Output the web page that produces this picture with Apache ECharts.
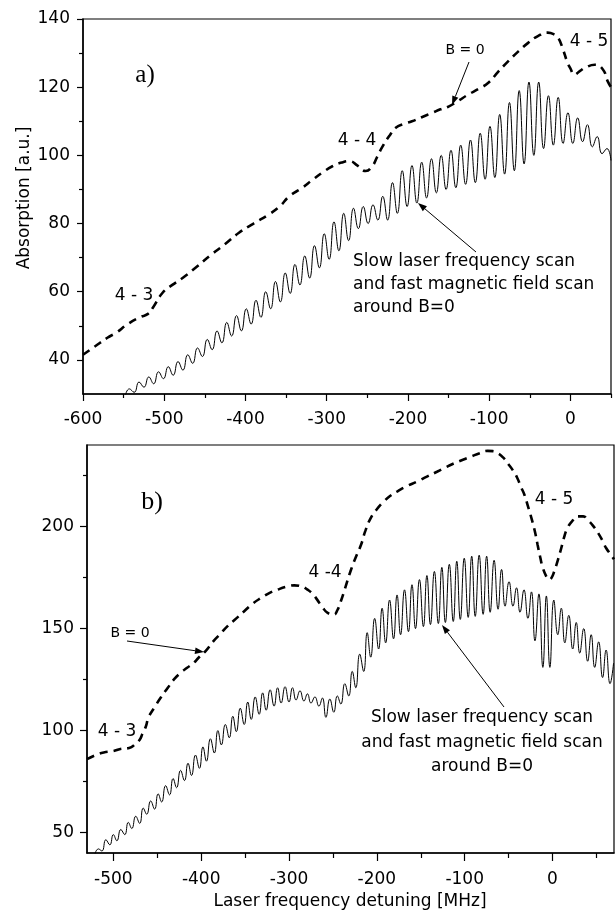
<!DOCTYPE html>
<html>
<head>
<meta charset="utf-8">
<script src="https://cdn.jsdelivr.net/npm/echarts@6/dist/echarts.min.js"></script>
<style>
  html, body { margin: 0; padding: 0; background: #fff; }
  #chart { width: 616px; height: 913px; }
</style>
</head>
<body>
<div id="chart"></div>
<script>
// ---- panel a) axes ----
var xTicksA = [-600, -500, -400, -300, -200, -100, 0];
var xMinorA = [-550, -450, -350, -250, -150, -50, 50];
var yTicksA = [40, 60, 80, 100, 120, 140];
var yMinorA = [50, 70, 90, 110, 130];

// ---- panel b) axes ----
var xTicksB = [-500, -400, -300, -200, -100, 0];
var xMinorB = [-450, -350, -250, -150, -50, 50];
var yTicksB = [50, 100, 150, 200];
var yMinorB = [75, 125, 175, 225];

// a) B=0 curve (dashed)
var dashA = [[-600,41.5],[-585,44],[-570,46.5],[-559,48],[-545,50.5],[-530,52.5],[-520,53.5],[-514,55.3],
  [-502,59.7],[-490,62],[-477,64.1],[-460,67.3],[-444,70.5],[-425,74],[-408,77.3],[-390,80],[-371,82.7],
  [-358,85],[-346,88],[-330,90.5],[-317,92.9],[-305,95],[-293,96.8],[-280,98],[-272,98.3],[-262,97],
  [-252,95.4],[-244,96.8],[-238,99.5],[-231,102.7],[-222,106],[-215,108.1],[-205,109.2],[-195,110],
  [-183,111.2],[-170,112.5],[-160,113.5],[-150,114.3],[-138,116],[-126,117.8],[-113,119.5],[-101,121.3],
  [-89,124.5],[-77,127.5],[-64,130.5],[-52,133],[-40,135],[-28,136],[-20,135.5],[-15,134.5],[-9,131],
  [-4,127.5],[0,125.5],[5,123.7],[12,124.8],[18,125.7],[30,126.6],[40,125.2],[46,121.7],[50,120]];

// a) scanned curve: maxima and minima of the oscillation
var peaksA = [[-543,31.5],[-531,33.5],[-519,35],[-507,36.5],[-495,38],[-483,39.5],[-471,41.5],[-459,43.5],
  [-447,46],[-435,48.5],[-423,51],[-411,53],[-399,55],[-387,57.5],[-375,60],[-363,63],[-351,65.5],[-339,68],
  [-327,70.5],[-315,73.5],[-303,77],[-291,80.5],[-279,83],[-267,84.5],[-255,85],[-243,85.5],[-231,88],
  [-219,92],[-207,95.5],[-195,97],[-183,98],[-171,99],[-159,100],[-147,101.5],[-135,103],[-123,104.5],
  [-111,106.5],[-99,108.5],[-87,112],[-75,115.5],[-63,119],[-51,121.5],[-39,121.5],[-27,117.5],[-15,117],
  [-3,112.5],[9,111],[21,109],[33,105.5],[45,102]];
var troughsA = [[-548,29.5],[-537,30.5],[-525,32],[-513,33],[-501,34.5],[-489,35.5],[-477,37],[-465,39],
  [-453,41],[-441,43],[-429,45],[-417,47],[-405,48.5],[-393,50.5],[-381,52.5],[-369,55],[-357,57],[-345,59.5],
  [-333,62],[-321,64],[-309,67],[-297,69.5],[-285,72],[-273,75],[-261,78.5],[-249,80],[-237,81],[-225,81],
  [-213,83],[-201,85],[-189,86],[-177,87.5],[-165,89],[-153,90],[-141,90.5],[-129,91.5],[-117,92],[-105,93],
  [-93,93.5],[-81,94.5],[-69,95.5],[-57,97.5],[-45,100],[-33,102],[-21,103],[-9,103.5],[3,103.5],[15,104],
  [27,102.5],[39,100.5],[50,98.5]];

// b) B=0 curve (dashed)
var dashB = [[-530,86],[-520,88],[-511,89.3],[-500,90],[-492,91],[-482,91.5],[-475,93.4],[-470,95.5],
  [-467,98.3],[-463,102],[-460,106.4],[-453,111.5],[-446,116.2],[-438,121],[-431,125.1],[-423,128.5],
  [-416,130.8],[-409,133],[-403,135.7],[-395,139],[-386,143.9],[-378,147.5],[-370,151.2],[-360,155],
  [-351,158.5],[-342,162],[-332,165],[-322,167.5],[-313,169.1],[-303,170.5],[-294,171.2],[-286,170.8],
  [-279,169.1],[-273,167],[-268,164.2],[-262,160.5],[-256,157.7],[-249,156.9],[-245,159],[-241,163.4],
  [-236,170],[-230,178.1],[-224,185],[-218,191.1],[-213,198],[-207,204.2],[-200,208.5],[-192,212.3],
  [-185,215],[-177,217.2],[-166,219.8],[-154,222.1],[-143,224.5],[-131,227],[-122,229],[-112,231],
  [-102,232.8],[-93,234.3],[-83,236],[-74,237.1],[-68,237],[-62,235.9],[-56,233.8],[-51,231],[-45,227.5],
  [-40,223.7],[-36,219.5],[-32,215.6],[-28,210],[-24,204.2],[-20,197.5],[-17,191.1],[-14,185],[-11,179.7],
  [-7,175.5],[-4,174],[-1,175],[2,178.1],[6,183.5],[10,189.5],[13,194.5],[17,199.3],[23,203],[29,205],
  [35,205],[40,203.3],[46,200.5],[52,196.8],[57,193],[61,189.5],[66,186.5],[70,184]];

// b) scanned curve: maxima and minima
var peaksB = [[-517,42],[-508.5,46.5],[-500,49],[-491.5,51.5],[-483,55],[-474.5,58],[-466,62],[-457.5,65.5],
  [-449,69],[-440.5,73],[-432,76.5],[-423.5,80.5],[-415,84],[-406.5,88],[-398,92],[-389.5,96],[-381,100],
  [-372.5,103],[-364,107],[-355.5,111],[-347,114],[-338.5,116.5],[-330,118.5],[-321.5,120],[-313,121],
  [-304.5,121.5],[-296,121],[-287.5,119.5],[-279,118],[-270.5,116.5],[-262,116],[-253.5,115.5],[-245,117],
  [-236.5,123],[-228,129],[-219.5,137.5],[-211,148],[-202.5,155],[-194,160],[-185.5,164],[-177,166.5],
  [-168.5,169],[-160,171.5],[-151.5,174],[-143,176],[-134.5,178],[-126,180],[-117.5,181.5],[-109,183],
  [-100.5,184.5],[-92,185.5],[-83.5,186],[-75,185.5],[-66.5,183.5],[-58,179],[-49.5,173],[-41,170],
  [-32.5,169],[-24,168],[-15.5,167],[-7,166],[1.5,164],[10,160],[18.5,156.5],[27,153],[35.5,150],[44,147],
  [52.5,143.5],[61,139.5],[69.5,133]];
var troughsB = [[-522,38],[-513,41],[-504,44],[-496,46],[-487,49],[-479,52],[-470,54.5],[-462,59],[-453,61.5],
  [-445,65],[-436,68.5],[-428,72],[-419,75.5],[-411,78],[-402,81.5],[-394,85],[-385,89],[-377,93],[-368,96.5],
  [-360,99.5],[-351,103],[-343,105.5],[-334,108],[-326,110],[-317,112],[-309,113.5],[-300,114],[-292,115],
  [-283,114.5],[-275,113.5],[-266,112],[-258,106.5],[-249,109],[-241,113],[-232,117],[-224,121],[-215,129],
  [-207,136],[-198,140],[-190,143],[-181,145],[-173,147],[-164,148.5],[-156,150],[-147,151],[-139,152],
  [-130,152.5],[-122,153],[-113,153.5],[-105,154.5],[-96,155.5],[-88,156],[-79,157],[-71,158],[-62,159.5],
  [-54,161],[-45,161],[-37,158],[-28,155],[-20,144],[-11,131],[-3,131],[6,147],[14,143],[23,140],[31,138],
  [40,134],[48,131],[57,126],[65.5,123]];

function merge(p, t) {
  return p.concat(t).sort(function (a, b) { return a[0] - b[0]; });
}

var FONT = 'DejaVu Sans';
var tickStyle = { color: '#000', width: 1.2 };

function axis(dim, grid, min, max, ticks, len, margin, main) {
  return {
    type: 'value', gridIndex: grid, min: min, max: max,
    position: dim === 'x' ? 'bottom' : 'left',
    axisLine: { show: main, onZero: false, lineStyle: { color: '#000', width: 1.5 } },
    axisTick: { show: true, customValues: ticks, length: len, lineStyle: tickStyle },
    axisLabel: { show: main, customValues: ticks, margin: margin, color: '#000', fontFamily: FONT, fontSize: 17 },
    splitLine: { show: false }
  };
}

function txt(x, y, s, size, extra) {
  var st = { text: s, x: 0, y: 0, fill: '#000', font: size + 'px "' + FONT + '"', align: 'center', verticalAlign: 'middle' };
  if (extra) for (var k in extra) st[k] = extra[k];
  return { type: 'text', x: x, y: y, z: 100, style: st };
}
// arrow with a filled head at (x2, y2)
function arrow(x1, y1, x2, y2) {
  var a = Math.atan2(y2 - y1, x2 - x1), L = 9, W = 3.2;
  var bx = x2 - L * Math.cos(a), by = y2 - L * Math.sin(a);
  return [
    { type: 'line', z: 100, shape: { x1: x1, y1: y1, x2: bx, y2: by }, style: { stroke: '#000', lineWidth: 1 } },
    { type: 'polygon', z: 100, shape: { points: [[x2, y2],
      [bx + W * Math.sin(a), by - W * Math.cos(a)], [bx - W * Math.sin(a), by + W * Math.cos(a)]] },
      style: { fill: '#000' } }
  ];
}

var graphics = [
  txt(145, 75, 'a)', 25, { font: '25px "Liberation Serif"' }),
  txt(134, 296, '4 - 3', 17),
  txt(357, 141, '4 - 4', 17),
  txt(589, 42, '4 - 5', 17),
  txt(465, 50, 'B = 0', 14),
  txt(353, 262, 'Slow laser frequency scan', 17, { align: 'left' }),
  txt(353, 285, 'and fast magnetic field scan', 17, { align: 'left' }),
  txt(353, 308, 'around B=0', 17, { align: 'left' }),
  txt(152, 502, 'b)', 26, { font: '26px "Liberation Serif"' }),
  txt(117, 732, '4 - 3', 17),
  txt(325, 573, '4 -4', 17),
  txt(554, 500, '4 - 5', 17),
  txt(130, 633, 'B = 0', 14),
  txt(482, 718, 'Slow laser frequency scan', 17),
  txt(482, 743, 'and fast magnetic field scan', 17),
  txt(482, 767, 'around B=0', 17),
  { type: 'text', x: 25, y: 198, rotation: Math.PI / 2, z: 100,
    style: { text: 'Absorption [a.u.]', fill: '#000', font: '17px "' + FONT + '"', align: 'center', verticalAlign: 'middle' } },
  txt(350, 902, 'Laser frequency detuning [MHz]', 17)
].concat(arrow(469, 62, 452, 105), arrow(476, 252, 418, 203), arrow(127, 641, 204, 652), arrow(504, 707, 442, 625));

var chart = echarts.init(document.getElementById('chart'));
chart.setOption({
  backgroundColor: '#fff',
  animation: false,
  grid: [
    { left: 83, top: 19, width: 528, height: 375, show: true, borderColor: '#000', borderWidth: 1.2 },
    { left: 87, top: 445, width: 527, height: 408, show: true, borderColor: '#000', borderWidth: 1.2 }
  ],
  xAxis: [
    axis('x', 0, -600, 50, xTicksA, 7, 17, true),
    axis('x', 0, -600, 50, xMinorA, 4, 0, false),
    axis('x', 1, -530, 70, xTicksB, 8, 18, true),
    axis('x', 1, -530, 70, xMinorB, 5, 0, false)
  ],
  yAxis: [
    axis('y', 0, 30, 140, yTicksA, 6, 13, true),
    axis('y', 0, 30, 140, yMinorA, 4, 0, false),
    axis('y', 1, 40, 240, yTicksB, 7, 13, true),
    axis('y', 1, 40, 240, yMinorB, 4, 0, false)
  ],
  series: [
    { type: 'line', xAxisIndex: 0, yAxisIndex: 0, data: dashA, showSymbol: false, smooth: true,
      lineStyle: { color: '#000', width: 2.6, type: [8, 6] } },
    { type: 'line', xAxisIndex: 0, yAxisIndex: 0, data: merge(peaksA, troughsA), showSymbol: false, smooth: 0.5,
      lineStyle: { color: '#000', width: 1 } },
    { type: 'line', xAxisIndex: 2, yAxisIndex: 2, data: dashB, showSymbol: false, smooth: true,
      lineStyle: { color: '#000', width: 2.6, type: [8, 6] } },
    { type: 'line', xAxisIndex: 2, yAxisIndex: 2, data: merge(peaksB, troughsB), showSymbol: false, smooth: 0.5,
      lineStyle: { color: '#000', width: 1 } }
  ],
  graphic: graphics
});
</script>
</body>
</html>
